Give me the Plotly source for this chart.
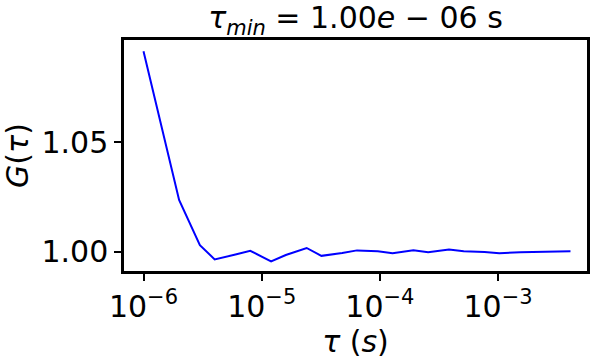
import plotly.graph_objects as go

tau_us = [1, 2, 3, 4, 6, 8, 12, 16, 24, 32, 48, 64, 96, 128, 192, 256,
          384, 512, 768, 1024, 1536, 2048, 3072, 4096]
tau = [t * 1e-6 for t in tau_us]
G = [1.0915, 1.0237, 1.0031, 0.9966, 0.9988, 1.0005, 0.9957, 0.9986,
     1.0018, 0.9982, 0.9995, 1.0007, 1.0003, 0.9994, 1.0007, 0.9999,
     1.0011, 1.0003, 1.0000, 0.9994, 0.9999, 1.0000, 1.0002, 1.0003]

x_tickvals = [1e-6, 1e-5, 1e-4, 1e-3]
x_ticktext = ["10<sup>−6</sup>", "10<sup>−5</sup>", "10<sup>−4</sup>", "10<sup>−3</sup>"]
y_tickvals = [1.00, 1.05]
y_ticktext = ["1.00", "1.05"]

FONT = "DejaVu Sans"
FS = 30

fig = go.Figure()
fig.add_trace(go.Scatter(x=tau, y=G, mode="lines",
                         line=dict(color="#0000ff", width=2), showlegend=False))

fig.update_layout(
    width=597, height=359,
    margin=dict(l=124, r=10, t=40, b=88, autoexpand=False),
    paper_bgcolor="white", plot_bgcolor="white",
    font=dict(family=FONT, size=FS, color="black"),
    title=dict(text="<i>τ</i><sub><i>min</i></sub> = 1.00<i>e</i> − 06 s",
               x=0.5955, xanchor="center", y=0.95, yanchor="middle",
               font=dict(family=FONT, size=FS, color="black")),
)
fig.update_xaxes(type="log", range=[-6.165, -2.248], automargin=False,
                 tickvals=x_tickvals, ticktext=x_ticktext,
                 ticks="outside", ticklen=7, tickwidth=2, tickcolor="black",
                 showline=True, linewidth=2.5, linecolor="black", mirror=True,
                 showgrid=False, zeroline=False,
                 tickfont=dict(family=FONT, size=FS),
                 title=dict(text="<i>τ</i> (<i>s</i>)", standoff=6,
                            font=dict(family=FONT, size=FS)))
fig.update_yaxes(range=[0.9913, 1.0966], automargin=False,
                 tickvals=y_tickvals, ticktext=y_ticktext,
                 ticks="outside", ticklen=7, tickwidth=2, tickcolor="black",
                 showline=True, linewidth=2.5, linecolor="black", mirror=True,
                 showgrid=False, zeroline=False,
                 tickfont=dict(family=FONT, size=FS),
                 title=dict(text="<i>G</i>(<i>τ</i>)", standoff=8,
                            font=dict(family=FONT, size=FS)))

fig.write_html("out.html")
